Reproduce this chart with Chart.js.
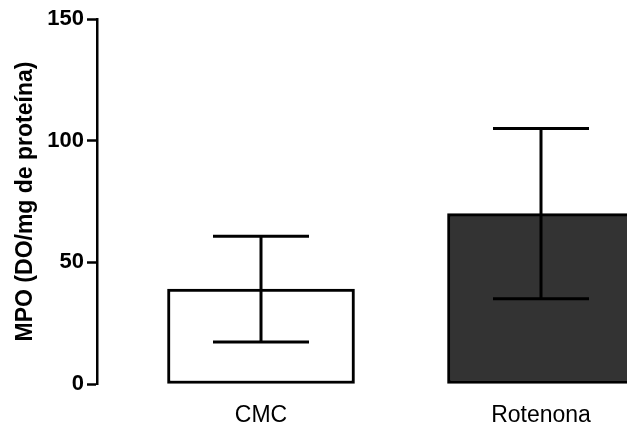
<!DOCTYPE html>
<html>
<head>
<meta charset="utf-8">
<script src="https://cdn.jsdelivr.net/npm/chart.js@4/dist/chart.umd.min.js"></script>
<style>
  html, body { margin: 0; padding: 0; background: #ffffff; overflow: hidden; }
  #wrap { width: 627px; height: 425px; }
</style>
</head>
<body>
<div id="wrap"><canvas id="chart" width="627" height="425"></canvas></div>
<script>
// Group names, means and their error (SEM) for MPO activity
const categories = ['CMC', 'Rotenona'];
const means = [39, 70];
const errors = [21.7, 35];
const yTicks = [0, 50, 100, 150];

const barFills = ['#ffffff', '#333333'];

// Error bars: vertical whisker with a horizontal cap at each end
const errorBarPlugin = {
  id: 'errorBars',
  afterDatasetsDraw(chart) {
    const { ctx, scales: { x, y } } = chart;
    ctx.save();
    ctx.strokeStyle = '#000000';
    ctx.lineWidth = 3;
    ctx.lineCap = 'butt';
    means.forEach((m, i) => {
      const cx = x.getPixelForValue(i + 1);
      const yHi = y.getPixelForValue(m + errors[i]);
      const yLo = y.getPixelForValue(m - errors[i]);
      const half = 48;
      ctx.beginPath();
      ctx.moveTo(cx, yHi);
      ctx.lineTo(cx, yLo);
      ctx.moveTo(cx - half, yHi);
      ctx.lineTo(cx + half, yHi);
      ctx.moveTo(cx - half, yLo);
      ctx.lineTo(cx + half, yLo);
      ctx.stroke();
    });
    ctx.restore();
  }
};

new Chart(document.getElementById('chart'), {
  type: 'bar',
  data: {
    datasets: [{
      data: means.map((m, i) => ({ x: i + 1, y: m })),
      backgroundColor: barFills,
      borderColor: '#000000',
      borderWidth: 3,
      borderSkipped: false,
      barThickness: 187
    }]
  },
  options: {
    responsive: false,
    animation: false,
    devicePixelRatio: 1,
    layout: { padding: { top: 19, right: 0, bottom: 0, left: 0 } },
    plugins: { legend: { display: false }, tooltip: { enabled: false } },
    scales: {
      x: {
        type: 'linear',
        offset: false,
        min: 1 - 164 / 280,
        max: 2 + 86 / 280,
        grid: { display: false, offset: false },
        border: { display: false },
        afterBuildTicks(scale) {
          scale.ticks = categories.map((_, i) => ({ value: i + 1 }));
        },
        ticks: {
          padding: 10,
          color: '#000000',
          font: { family: '"Liberation Sans", Arial, sans-serif', size: 23 },
          callback: (v) => categories[v - 1]
        },
        afterFit(scale) { scale.height = 41; }
      },
      y: {
        min: 0,
        max: 150,
        afterBuildTicks(scale) {
          scale.ticks = yTicks.map(v => ({ value: v }));
        },
        grid: {
          drawOnChartArea: false,
          drawTicks: true,
          tickLength: 10,
          tickWidth: 2.5,
          tickColor: '#000000'
        },
        border: { display: true, color: '#000000', width: 2.5 },
        ticks: {
          padding: 3,
          color: '#000000',
          font: { family: '"Liberation Sans", Arial, sans-serif', size: 22, weight: 'bold' }
        },
        title: {
          display: true,
          text: 'MPO (DO/mg de proteína)',
          color: '#000000',
          padding: { top: 12, bottom: 0 },
          font: { family: '"Liberation Sans", Arial, sans-serif', size: 23, weight: 'bold' }
        },
        afterFit(scale) { scale.width = 97; }
      }
    }
  },
  plugins: [errorBarPlugin]
});
</script>
</body>
</html>
